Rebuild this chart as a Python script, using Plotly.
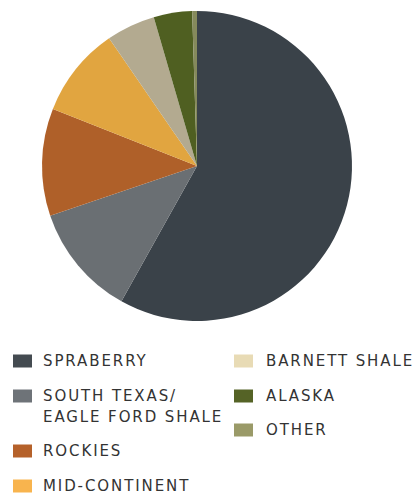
import plotly.graph_objects as go

labels = ["SPRABERRY", "SOUTH TEXAS/<br>EAGLE FORD SHALE", "ROCKIES", "MID-CONTINENT",
          "BARNETT SHALE", "ALASKA", "OTHER"]
values = [58.1, 11.7, 11.2, 9.4, 5.1, 4.0, 0.5]
pie_colors = ["#3a4249", "#6a6f73", "#af6029", "#e1a540", "#b3aa90", "#4f5f21", "#858a5c"]
legend_colors = ["#444b51", "#6e7378", "#b5612a", "#f8b44e", "#e8dbb5", "#556326", "#9a9a68"]

W, H = 418, 494
cx, cy, r = 197, 166, 155

fig = go.Figure(go.Pie(
    labels=labels, values=values, sort=False, direction="clockwise", rotation=0,
    marker=dict(colors=pie_colors, line=dict(width=0)),
    textinfo="none", hoverinfo="label+percent", showlegend=False,
    domain=dict(x=[(cx - r) / W, (cx + r) / W], y=[1 - (cy + r) / H, 1 - (cy - r) / H]),
))

# manual legend: two columns
col1 = [(0, 361), (1, 396), (2, 451), (3, 486)]
col2 = [(4, 361), (5, 396), (6, 430)]
shapes, annots = [], []
for items, sx, tx in [(col1, 13, 41), (col2, 234, 264)]:
    for idx, y in items:
        shapes.append(dict(type="rect", xref="paper", yref="paper",
                           x0=sx / W, x1=(sx + 19) / W,
                           y0=1 - (y + 6.5) / H, y1=1 - (y - 6.5) / H,
                           fillcolor=legend_colors[idx], line=dict(width=0)))
        for k, line in enumerate(labels[idx].split("<br>")):
            annots.append(dict(xref="paper", yref="paper", x=tx / W, y=1 - (y + 21 * k) / H,
                               xanchor="left", yanchor="middle", align="left",
                               text='<span style="letter-spacing:1.9px">' + line + '</span>',
                               showarrow=False,
                               font=dict(family="DejaVu Sans", size=15, color="#333333")))

fig.update_layout(width=W, height=H, margin=dict(l=0, r=0, t=0, b=0),
                  paper_bgcolor="white", plot_bgcolor="white",
                  shapes=shapes, annotations=annots)
fig.write_html("out.html", config={"displayModeBar": False},
               post_script="document.body.style.margin='0px';")
